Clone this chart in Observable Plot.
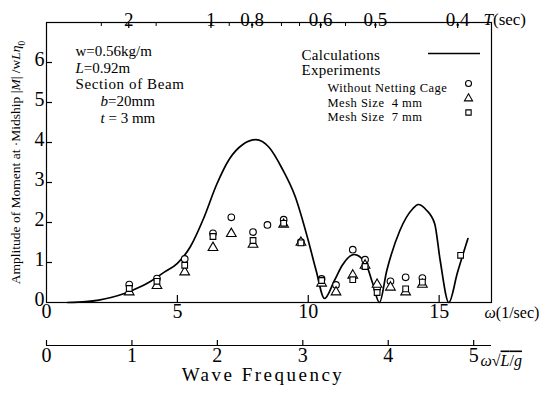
<!DOCTYPE html>
<html><head><meta charset="utf-8">
<script src="https://cdn.jsdelivr.net/npm/d3@7"></script>
<script src="https://cdn.jsdelivr.net/npm/@observablehq/plot@0.6"></script>
<style>
body{margin:0;background:#fff;}
#wrap{position:relative;width:555px;height:398px;background:#fff;}
#wrap svg{position:absolute;left:0;}
</style></head><body><div id="wrap"></div>
<script>
// ---- data ----
const curveOmega = [0.8,1.5,2,2.5,3,3.5,4,4.5,5,5.5,6,6.5,7,7.5,8,8.5,9,9.5,10,10.3,10.62,11,11.3,11.75,12.0,12.23,12.45,12.72,13.0,13.5,14.0,14.2,14.5,14.83,15.04,15.37,15.7,16.1];
const curveAmp   = [0,0.02,0.06,0.13,0.23,0.37,0.54,0.76,0.98,1.4,2.1,2.95,3.6,3.95,4.07,3.88,3.35,2.65,1.55,0.8,0.1,0.55,0.93,1.2,1.13,0.93,0.5,0,0.8,1.8,2.35,2.45,2.32,1.97,1.05,0,0.75,1.6];

const expOmega       = [3.16,4.22,5.28,6.36,7.06,7.89,8.44,9.06,9.72,10.51,11.06,11.70,12.17,12.63,13.14,13.72,14.36,15.82];
const ampWithoutCage = [0.45,0.60,1.09,1.73,2.13,1.76,1.94,2.07,1.51,0.59,0.44,1.32,1.07,0.35,0.53,0.63,0.61,null];
const ampMesh4       = [0.26,0.42,0.76,1.37,1.72,1.45,null,1.95,1.50,0.48,0.26,0.68,0.93,0.45,0.38,0.26,0.45,null];
const ampMesh7       = [0.35,0.53,0.93,1.65,null,1.55,null,1.98,1.49,0.55,null,0.57,0.90,0.25,null,0.34,0.51,1.18];

const omegaTicks = [0,5,10,15];
const ampTicks = [0,1,2,3,4,5,6];
const periodTicks = [2,1,0.8,0.6,0.5,0.4];
const periodTickLabels = ["2","1","0.8","0.6","0.5","0.4"];
const periodMinorTicks = [3,1.5,0.9,0.7,0.65,0.55];
const nondimTicks = [0,1,2,3,4,5];
const omegaDomain = [0,17];
const ampDomain = [0,7];
const beamLength = 0.92, gravity = 9.8;

const legendLines = ["Calculations","Experiments"];
const legendSeries = ["Without Netting Cage","Mesh Size  4 mm","Mesh Size  7 mm"];
const legendSymbols = ["circle","triangle","square"];
const notes = ["w=0.56kg/m","L=0.92m","Section of Beam","b=20mm","t = 3 mm"];
const yLabel = "Amplitude of Moment at ·Midship |M| /wLη0";

// ---- layout ----
const W = 555, H1 = 330, mL = 46, mR = 64, mT = 22, mB = 28;
const fW = W - mL - mR, fH = H1 - mT - mB;
const FONT = '"Liberation Serif", "DejaVu Serif", serif';
const periodToOmega = T => 2*Math.PI/T;

const symMarks = [
  [ampWithoutCage,"circle",3.3],
  [ampMesh4,"triangle",3.6],
  [ampMesh7,"square",3.2]
].map(([arr,sym,r]) => Plot.dot(expOmega, {x: d=>d, y: (d,i)=>arr[i], symbol: sym, r, stroke:"#000", strokeWidth:1.1, fill:"#fff"}));

const noteOffsets = [[29,23],[29,40],[29,56],[54,73],[54,90]];
const legSeriesDy = [61,76,90];

const p1 = Plot.plot({
  width: W, height: H1, marginLeft: mL, marginRight: mR, marginTop: mT, marginBottom: mB,
  style: {fontFamily: FONT, background: "transparent", color: "#000", overflow: "visible"},
  x: {domain: omegaDomain, axis: null},
  y: {domain: ampDomain, axis: null},
  marks: [
    Plot.tickX(periodTicks, {x: periodToOmega, insetBottom: fH-6, stroke:"#000", strokeWidth:1.2}),
    Plot.tickX(periodMinorTicks, {x: periodToOmega, insetBottom: fH-4, stroke:"#000"}),
    Plot.tickX(omegaTicks.filter(d=>d>0), {x: d=>d, insetTop: fH-7, stroke:"#000", strokeWidth:1.2}),
    Plot.tickY(ampTicks.filter(d=>d>0), {y: d=>d, insetRight: fW-6, stroke:"#000", strokeWidth:1.2}),
    Plot.text(periodTicks, {x: periodToOmega, text: (d,i)=>periodTickLabels[i], frameAnchor:"top", dy:-10, fontSize:19}),
    Plot.text(["T(sec)"], {frameAnchor:"top-right", textAnchor:"start", dx:-8, dy:-10, fontSize:17}),
    Plot.text(omegaTicks, {x: d=>d, text: d=>String(d), frameAnchor:"bottom", dy:15, fontSize:20}),
    Plot.text(["ω(1/sec)"], {frameAnchor:"bottom-right", textAnchor:"start", dx:-7, dy:15, fontSize:16}),
    Plot.text(ampTicks, {y: d=>d, text: d=>String(d), frameAnchor:"left", textAnchor:"end", dx:-2, dy:-3, fontSize:20}),
    Plot.text([yLabel], {frameAnchor:"left", textAnchor:"middle", rotate:-90, dx:-31, fontSize:13.5}),
    Plot.line(curveOmega, {x: d=>d, y: (d,i)=>curveAmp[i], curve:"monotone-x", stroke:"#000", strokeWidth:1.7}),
    ...symMarks,
    // notes
    ...notes.map((t,i)=>Plot.text([t], {frameAnchor:"top-left", textAnchor:"start", dx: noteOffsets[i][0], dy: noteOffsets[i][1], fontSize:15})),
    // legend
    ...legendLines.map((t,i)=>Plot.text([t], {frameAnchor:"top-left", textAnchor:"start", dx:255, dy: 27+15*i, fontSize:15})),
    Plot.ruleY([ampDomain[1]], {y: d=>d, insetLeft: 382, insetRight: 11, dy: 31, stroke:"#000", strokeWidth:1.6}),
    ...legendSeries.map((t,i)=>Plot.text([t], {frameAnchor:"top-left", textAnchor:"start", dx:281, dy: legSeriesDy[i], fontSize:12.5})),
    ...legendSymbols.map((s,i)=>Plot.dot([s], {frameAnchor:"top-left", dx:422, dy: legSeriesDy[i], symbol: s, r: 3, stroke:"#000", strokeWidth:1.1, fill:"none"})),
    Plot.frame({stroke:"#000", strokeWidth:1.2})
  ]
});

const nondim = Math.sqrt(beamLength/gravity);
const H2 = 68;
const p2 = Plot.plot({
  width: W, height: H2, marginLeft: mL, marginRight: mR, marginTop: 10, marginBottom: H2-15,
  style: {fontFamily: FONT, background: "transparent", color: "#000", overflow: "visible"},
  x: {domain: [omegaDomain[0]*nondim, omegaDomain[1]*nondim], axis: null},
  y: {domain: [0,1], axis: null},
  marks: [
    Plot.ruleY([0], {y: d=>d, stroke:"#000", strokeWidth:1.2}),
    Plot.tickX(nondimTicks, {x: d=>d, stroke:"#000", strokeWidth:1.2}),
    Plot.text(nondimTicks, {x: d=>d, text: d=>String(d), frameAnchor:"bottom", dy:16, fontSize:20}),
    Plot.text(["ω√L/g"], {frameAnchor:"bottom-right", textAnchor:"start", dx:-11, dy:20, fontSize:16}),
    Plot.text(["Wave Frequency"], {frameAnchor:"bottom", dx:-6, dy:35, fontSize:19})
  ]
});

const wrap = document.getElementById("wrap");
p1.style.top = "0px"; p2.style.top = H1 + "px";
wrap.appendChild(p1); wrap.appendChild(p2);

// rich text (italic letters etc.)
const IT = {"font-style":"italic"};
const rich = {
  "L=0.92m": [["L",IT],["=0.92m"]],
  "b=20mm": [["b",IT],["=20mm"]],
  "t = 3 mm": [["t",IT],[" = 3 mm"]],
  "T(sec)": [["T",IT],["(sec)"]],
  "ω(1/sec)": [["ω",IT],["(1/sec)"]],
  [yLabel]: [["Amplitude of Moment at ·Midship |"],["M",IT],["| /w"],["L",IT],["η",IT],["0",{"baseline-shift":"sub","font-size":"70%"}]],
  "ω√L/g": [["ω",IT],["√"],["L",{"font-style":"italic","text-decoration":"overline"}],["/",{"text-decoration":"overline"}],["g",{"font-style":"italic","text-decoration":"overline"}]]
};
const spaced = {"Wave Frequency":"2.5px","Without Netting Cage":"0.5px","Mesh Size  4 mm":"0.5px","Mesh Size  7 mm":"0.5px","Section of Beam":"0.6px","Calculations":"0.3px","Experiments":"0.3px"};
d3.select(wrap).selectAll("text").each(function(){
  const el = d3.select(this);
  const t = this.textContent;
  el.style("white-space","pre");
  if (spaced[t]) el.style("letter-spacing", spaced[t]);
  if (rich[t]) {
    el.text(null);
    for (const [s, st] of rich[t]) {
      const ts = el.append("tspan").text(s);
      if (st) for (const k in st) ts.style(k, st[k]);
    }
  }
});
</script></body></html>
